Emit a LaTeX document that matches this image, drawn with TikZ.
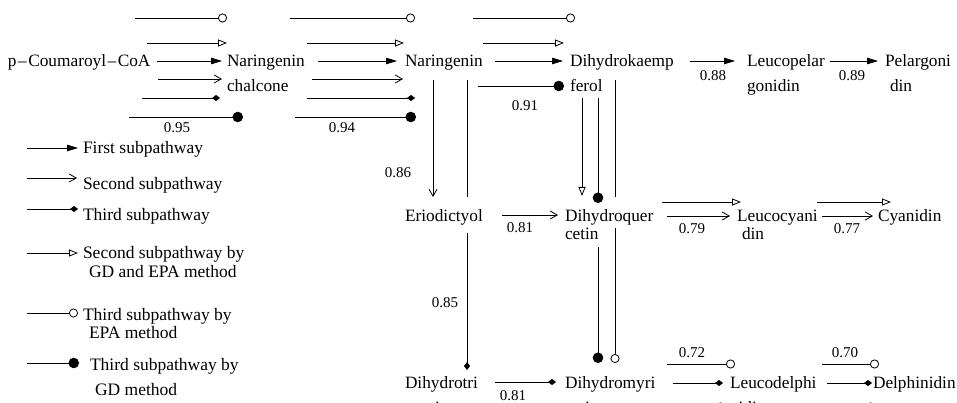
\documentclass[tikz,border=0pt]{standalone}
\usepackage{fontspec}
\setmainfont{Liberation Serif}
\usetikzlibrary{arrows.meta}

\tikzset{
  every node/.style={inner sep=0pt, outer sep=0pt},
  lbl/.style={font=\fontsize{17.3}{20}\selectfont, anchor=base west},
  leg/.style={font=\fontsize{17.5}{20}\selectfont, anchor=base west},
  val/.style={font=\fontsize{15}{18}\selectfont},
  conn/.style={line width=0.8pt},
  firstp/.style={conn, -{Triangle[length=11pt,width=6.5pt]}},
  secondp/.style={conn, -{Straight Barb[length=7pt,width=8pt]}},
  thirdp/.style={conn, -{Diamond[length=8pt,width=6pt]}},
  gdepa/.style={conn, -{Triangle[open,length=9pt,width=7pt]}},
  epa/.style={conn, -{Circle[open,length=9pt,width=9pt]}},
  gd/.style={conn, -{Circle[length=10.5pt,width=10.5pt]}},
  plain/.style={conn},
}

% horizontal connector: style, name, x start, x end, y
\newcommand\hconn[5]{\draw[#1] (#3,#5) coordinate (#2s) -- (#4,#5) coordinate (#2e);}
% vertical connector: style, name, x, y start, y end
\newcommand\vconn[5]{\draw[#1] (#3,#4) coordinate (#2s) -- (#3,#5) coordinate (#2e);}

\begin{document}
\begin{tikzpicture}[x=1pt,y=-1pt]
\useasboundingbox (0,0) rectangle (957,403);
\clip (0,0) rectangle (957,403);

% ---- compounds ----
\node[lbl] (pc)  at (8,67)    {p\kern1.5pt–\kern1.5pt Coumaroyl\kern1.5pt–\kern1.5pt CoA};
\node[lbl] (nc)  at (227,67)  {Naringenin};
\node[lbl] (nc2) at (227,92)  {chalcone};
\node[lbl] (nar) at (405,67)  {Naringenin};
\node[lbl] (dk)  at (570,67)  {Dihydrokaemp};
\node[lbl] (dk2) at (570,92)  {ferol};
\node[lbl] (lp)  at (747,67)  {Leucopelar};
\node[lbl] (lp2) at (747,92)  {gonidin};
\node[lbl] (pg)  at (885,67)  {Pelargoni};
\node[lbl] (pg2) at (890,92)  {din};
\node[lbl] (er)  at (405,222) {Eriodictyol};
\node[lbl] (dq)  at (565,222) {Dihydroquer};
\node[lbl] (dq2) at (565,240) {cetin};
\node[lbl] (lc)  at (737,222) {Leucocyani};
\node[lbl] (lc2) at (742,240) {din};
\node[lbl] (cy)  at (878,222) {Cyanidin};
\node[lbl] (dt)  at (405,388) {Dihydrotri};
\node[lbl] (dt2) at (415,413) {cetin};
\node[lbl] (dm)  at (565,388) {Dihydromyri};
\node[lbl] (dm2) at (565,413) {cetin};
\node[lbl] (ld)  at (730,388) {Leucodelphi};
\node[lbl] (ld2) at (730,413) {nidin};
\node[lbl] (dp)  at (873,388) {Delphinidin};

% ---- p-Coumaroyl-CoA -> Naringenin chalcone ----
\hconn{epa}{a1}{135}{227}{18}
\hconn{gdepa}{a2}{147}{227}{43}
\hconn{firstp}{a3}{157}{222}{61}
\hconn{secondp}{a4}{158}{222}{79}
\hconn{thirdp}{a5}{142}{220}{98}
\hconn{gd}{a6}{129}{243}{117}
\node[val] (v95) at (177,128) {0.95};

% ---- Naringenin chalcone -> Naringenin ----
\hconn{epa}{b1}{290}{415}{18}
\hconn{gdepa}{b2}{307}{404}{43}
\hconn{firstp}{b3}{318}{397}{61}
\hconn{secondp}{b4}{312}{403}{79}
\hconn{thirdp}{b5}{307}{415}{98}
\hconn{gd}{b6}{295}{416}{117}
\node[val] (v94) at (342,128) {0.94};

% ---- Naringenin -> Dihydrokaempferol ----
\hconn{epa}{c1}{473}{575}{18}
\hconn{gdepa}{c2}{483}{564}{43}
\hconn{firstp}{c3}{495}{563}{61}
\hconn{gd}{c4}{478}{564}{86}
\node[val] (v91) at (525,106) {0.91};

% ---- Dihydrokaempferol -> Leucopelargonidin -> Pelargonidin ----
\hconn{firstp}{d1}{690}{735}{61}
\node[val] (v88) at (713,76) {0.88};
\hconn{firstp}{d2}{830}{878}{61}
\node[val] (v89) at (852,76) {0.89};

% ---- Naringenin -> Eriodictyol -> Dihydrotricetin ----
\vconn{secondp}{e1}{433}{80}{197}
\node[val] (v86) at (398,173) {0.86};
\vconn{plain}{e2}{467}{80}{197}
\vconn{thirdp}{e3}{467}{233}{370}
\node[val] (v85) at (445,303) {0.85};

% ---- Dihydrokaempferol -> Dihydroquercetin ----
\vconn{gdepa}{f1}{582}{98}{196}
\vconn{gd}{f2}{598}{98}{203}
\vconn{plain}{f3}{615}{80}{197}

% ---- Eriodictyol -> Dihydroquercetin ----
\hconn{secondp}{g1}{502}{558}{215}
\node[val] (v81a) at (520,228) {0.81};

% ---- Dihydroquercetin -> Leucocyanidin -> Cyanidin ----
\hconn{gdepa}{h1}{662}{741}{202}
\hconn{secondp}{h2}{667}{730}{216}
\node[val] (v79) at (692,229) {0.79};
\hconn{gdepa}{h3}{817}{891}{202}
\hconn{secondp}{h4}{822}{873}{216}
\node[val] (v77) at (847,229) {0.77};

% ---- Dihydroquercetin -> Dihydromyricetin ----
\vconn{gd}{i1}{598}{247}{363}
\vconn{epa}{i2}{615}{228}{363}

% ---- Dihydrotricetin -> Dihydromyricetin ----
\hconn{thirdp}{j1}{495}{556}{382}
\node[val] (v81b) at (513,396) {0.81};

% ---- Dihydromyricetin -> Leucodelphinidin -> Delphinidin ----
\hconn{epa}{k1}{667}{735}{364}
\node[val] (v72) at (692,353) {0.72};
\hconn{thirdp}{k2}{673}{723}{383}
\hconn{epa}{k3}{673}{725}{407}
\hconn{epa}{k4}{822}{879}{364}
\node[val] (v70) at (845,353) {0.70};
\hconn{thirdp}{k5}{827}{872}{383}
\hconn{epa}{k6}{827}{875}{407}

% ---- legend ----
\hconn{firstp}{m1}{27}{78}{148}
\node[leg] (t1) at (83,154) {First subpathway};
\hconn{secondp}{m2}{27}{77}{178}
\node[leg] (t2) at (83,190) {Second subpathway};
\hconn{thirdp}{m3}{27}{78}{209}
\node[leg] (t3) at (83,221) {Third subpathway};
\hconn{gdepa}{m4}{27}{78}{253}
\node[leg] (t4) at (83,258) {Second subpathway by};
\node[leg] (t4b) at (89,277) {GD and EPA method};
\hconn{epa}{m5}{27}{78}{313}
\node[leg] (t5) at (83,320) {Third subpathway by};
\node[leg] (t5b) at (89,338) {EPA method};
\hconn{gd}{m6}{27}{79}{363}
\node[leg] (t6) at (90,370) {Third subpathway by};
\node[leg] (t6b) at (95,395) {GD method};
\end{tikzpicture}
\end{document}
